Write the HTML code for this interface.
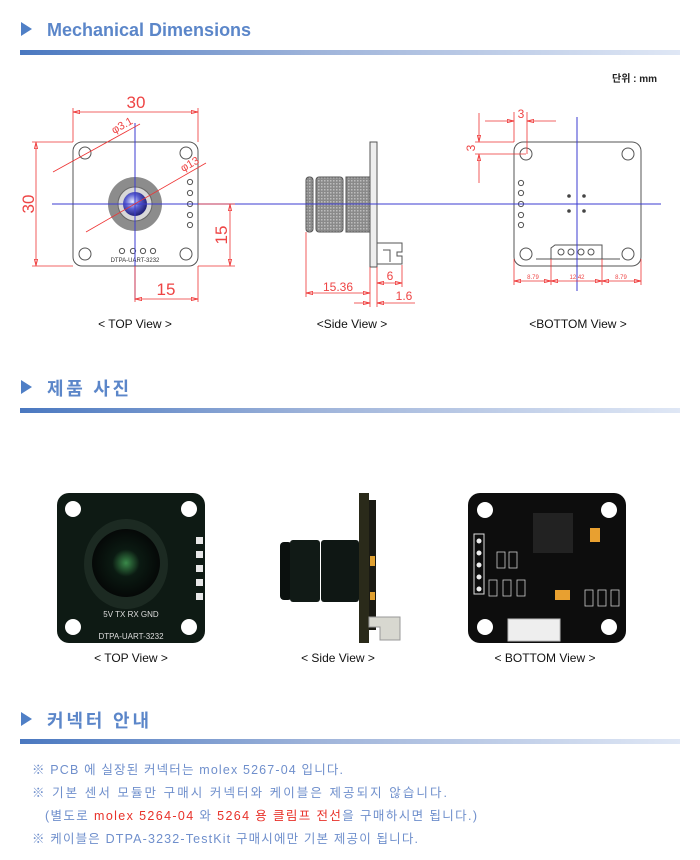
<!DOCTYPE html>
<html><head><meta charset="utf-8"><style>
html,body{margin:0;padding:0;background:#fff;width:700px;height:860px;overflow:hidden}
svg{display:block}
text{font-family:"Liberation Sans","Noto Sans CJK KR",sans-serif}
</style></head><body>
<svg width="700" height="860" viewBox="0 0 700 860" xmlns="http://www.w3.org/2000/svg">
<defs>
<linearGradient id="bar" x1="0" x2="1" y1="0" y2="0">
<stop offset="0" stop-color="#4a78c0"/><stop offset="0.45" stop-color="#9fb4da"/><stop offset="1" stop-color="#dfe7f5"/>
</linearGradient>
<pattern id="knurl" width="3" height="3" patternUnits="userSpaceOnUse">
<rect width="3" height="3" fill="#8a8a8a"/><rect width="1.5" height="1.5" fill="#bdbdbd"/>
</pattern>
<radialGradient id="lens" cx="0.4" cy="0.4" r="0.6"><stop offset="0" stop-color="#e8ecff"/><stop offset="0.5" stop-color="#5a5fd0"/><stop offset="1" stop-color="#23237a"/></radialGradient>
<radialGradient id="plens" cx="0.5" cy="0.5" r="0.5"><stop offset="0" stop-color="#3a8a4a"/><stop offset="0.4" stop-color="#0b1a12"/><stop offset="1" stop-color="#050807"/></radialGradient>
<marker id="ar" viewBox="0 0 10 6" refX="10" refY="3" markerWidth="10" markerHeight="5" orient="auto-start-reverse"><path d="M0,0.5 L10,3 L0,5.5 Z" fill="none" stroke="#e33" stroke-width="1"/></marker>
</defs>

<!-- Header 1 -->
<path d="M21,22 L32,29 L21,36 Z" fill="#4f7fc6"/>
<text x="47" y="36" font-size="18" font-weight="bold" fill="#5b86c9">Mechanical Dimensions</text>
<rect x="20" y="50" width="660" height="5" fill="url(#bar)"/>
<text x="612" y="82" font-size="10" font-weight="bold" fill="#222">단위 : mm</text>

<!-- TOP view drawing -->
<g stroke="#555" fill="none" stroke-width="1">
<rect x="73" y="142" width="125" height="124" rx="9"/>
<circle cx="85" cy="153" r="6"/><circle cx="186" cy="153" r="6"/><circle cx="85" cy="254" r="6"/><circle cx="186" cy="254" r="6"/>
<circle cx="190" cy="182" r="2.6"/><circle cx="190" cy="193" r="2.6"/><circle cx="190" cy="204" r="2.6"/><circle cx="190" cy="215" r="2.6"/><circle cx="190" cy="225" r="2.6"/>
<circle cx="122" cy="251" r="2.6"/><circle cx="133" cy="251" r="2.6"/><circle cx="143" cy="251" r="2.6"/><circle cx="153" cy="251" r="2.6"/>
</g>
<circle cx="135" cy="204" r="27" fill="#8c8c8c"/>
<circle cx="135" cy="204" r="17" fill="#d8d8d8" stroke="#666"/>
<circle cx="135" cy="204" r="12" fill="url(#lens)"/>
<text x="135" y="262" font-size="6" fill="#333" text-anchor="middle">DTPA-UART-3232</text>

<!-- Side view drawing -->
<g stroke="#555" stroke-width="1">
<rect x="306" y="177" width="7" height="55" rx="3" fill="url(#knurl)"/>
<rect x="316" y="177" width="27" height="55" rx="3" fill="url(#knurl)"/>
<rect x="346" y="177" width="24" height="55" fill="url(#knurl)"/>
<rect x="370" y="142" width="7" height="125" fill="#eee"/>
<path d="M377,243 H402 V252 H397 V256 H402 V264 H377" fill="none"/>
<path d="M383,250 H390 V262" fill="none"/>
</g>

<!-- Bottom view drawing -->
<g stroke="#555" fill="none" stroke-width="1">
<rect x="514" y="142" width="127" height="124" rx="9"/>
<circle cx="526" cy="154" r="6"/><circle cx="628" cy="154" r="6"/><circle cx="526" cy="254" r="6"/><circle cx="628" cy="254" r="6"/>
<circle cx="521" cy="183" r="2.6"/><circle cx="521" cy="193" r="2.6"/><circle cx="521" cy="204" r="2.6"/><circle cx="521" cy="215" r="2.6"/><circle cx="521" cy="225" r="2.6"/>
<path d="M551,259 V248 L555,245 H602 V259"/>
<circle cx="561" cy="252" r="3"/><circle cx="571" cy="252" r="3"/><circle cx="581" cy="252" r="3"/><circle cx="591" cy="252" r="3"/>
<line x1="536" y1="259" x2="620" y2="259"/>
</g>
<g fill="#444"><circle cx="569" cy="196" r="1.8"/><circle cx="584" cy="196" r="1.8"/><circle cx="569" cy="211" r="1.8"/><circle cx="584" cy="211" r="1.8"/></g>

<!-- blue center lines -->
<g stroke="#3b3bd0" stroke-width="1">
<line x1="52" y1="204" x2="661" y2="204"/>
<line x1="135" y1="123" x2="135" y2="300"/>
<line x1="577" y1="117" x2="577" y2="291"/>
</g>

<!-- red dims -->
<g stroke="#e33" stroke-width="0.8" fill="none">
<line x1="73" y1="142" x2="73" y2="108"/><line x1="198" y1="142" x2="198" y2="108"/>
<line x1="73" y1="112" x2="198" y2="112" marker-start="url(#ar)" marker-end="url(#ar)"/>
<line x1="73" y1="142" x2="32" y2="142"/><line x1="73" y1="266" x2="32" y2="266"/>
<line x1="36" y1="142" x2="36" y2="266" marker-start="url(#ar)" marker-end="url(#ar)"/>
<line x1="198" y1="204" x2="235" y2="204"/><line x1="198" y1="266" x2="235" y2="266"/>
<line x1="230" y1="204" x2="230" y2="266" marker-start="url(#ar)" marker-end="url(#ar)"/>
<line x1="135" y1="266" x2="135" y2="302"/><line x1="198" y1="266" x2="198" y2="302"/>
<line x1="135" y1="299" x2="198" y2="299" marker-start="url(#ar)" marker-end="url(#ar)"/>
<line x1="53" y1="172" x2="140" y2="124"/>
<line x1="86" y1="232" x2="206" y2="163"/>
<line x1="306" y1="232" x2="306" y2="297"/><line x1="370" y1="267" x2="370" y2="307"/><line x1="377" y1="267" x2="377" y2="307"/><line x1="402" y1="265" x2="402" y2="287"/>
<line x1="306" y1="293" x2="370" y2="293" marker-start="url(#ar)" marker-end="url(#ar)"/>
<line x1="377" y1="283" x2="402" y2="283" marker-start="url(#ar)" marker-end="url(#ar)"/>
<line x1="354" y1="303" x2="370" y2="303" marker-end="url(#ar)"/>
<line x1="415" y1="303" x2="377" y2="303" marker-end="url(#ar)"/>
<line x1="514" y1="142" x2="514" y2="112"/><line x1="527" y1="154" x2="527" y2="112"/>
<line x1="485" y1="121" x2="514" y2="121" marker-end="url(#ar)"/><line x1="556" y1="121" x2="527" y2="121" marker-end="url(#ar)"/>
<line x1="514" y1="142" x2="475" y2="142"/><line x1="526" y1="154" x2="475" y2="154"/>
<line x1="479" y1="113" x2="479" y2="142" marker-end="url(#ar)"/><line x1="479" y1="183" x2="479" y2="154" marker-end="url(#ar)"/>
<line x1="514" y1="259" x2="514" y2="285"/><line x1="551" y1="259" x2="551" y2="285"/><line x1="602" y1="259" x2="602" y2="285"/><line x1="641" y1="259" x2="641" y2="285"/>
<line x1="514" y1="281" x2="551" y2="281" marker-start="url(#ar)" marker-end="url(#ar)"/>
<line x1="551" y1="281" x2="602" y2="281" marker-start="url(#ar)" marker-end="url(#ar)"/>
<line x1="602" y1="281" x2="641" y2="281" marker-start="url(#ar)" marker-end="url(#ar)"/>
</g>
<g fill="#e44" font-size="17">
<text x="136" y="108" text-anchor="middle">30</text>
<text x="34" y="204" text-anchor="middle" transform="rotate(-90 34 204)">30</text>
<text x="227" y="235" text-anchor="middle" transform="rotate(-90 227 235)">15</text>
<text x="166" y="295" text-anchor="middle">15</text>
<text x="114" y="134" font-size="11" transform="rotate(-29 114 134)">φ3.1</text>
<text x="183" y="172" font-size="11" transform="rotate(-29 183 172)">φ13</text>
<text x="338" y="291" font-size="12" text-anchor="middle">15.36</text>
<text x="390" y="280" font-size="12" text-anchor="middle">6</text>
<text x="404" y="300" font-size="12" text-anchor="middle">1.6</text>
<text x="521" y="118" font-size="12" text-anchor="middle">3</text>
<text x="475" y="148" font-size="12" text-anchor="middle" transform="rotate(-90 475 148)">3</text>
<text x="533" y="279" font-size="6" text-anchor="middle">8.79</text>
<text x="577" y="279" font-size="6" text-anchor="middle">12.42</text>
<text x="621" y="279" font-size="6" text-anchor="middle">8.79</text>
</g>
<g font-size="12" fill="#111" text-anchor="middle">
<text x="135" y="328">&lt; TOP View &gt;</text>
<text x="352" y="328">&lt;Side View &gt;</text>
<text x="578" y="328">&lt;BOTTOM View &gt;</text>
</g>

<!-- Header 2 -->
<path d="M21,380 L32,387 L21,394 Z" fill="#4f7fc6"/>
<text x="47" y="395" font-size="18" font-weight="bold" fill="#5b86c9" textLength="82" lengthAdjust="spacing">제품 사진</text>
<rect x="20" y="408" width="660" height="5" fill="url(#bar)"/>

<!-- Photo top -->
<rect x="57" y="493" width="148" height="150" rx="12" fill="#0e1a14"/>
<circle cx="73" cy="509" r="8" fill="#fff"/><circle cx="189" cy="509" r="8" fill="#fff"/><circle cx="73" cy="627" r="8" fill="#fff"/><circle cx="189" cy="627" r="8" fill="#fff"/>
<ellipse cx="126" cy="564" rx="42" ry="45" fill="#1c2a22"/>
<circle cx="126" cy="563" r="34" fill="url(#plens)"/>
<g fill="#e8e8e8"><rect x="196" y="537" width="7" height="7"/><rect x="196" y="551" width="7" height="7"/><rect x="196" y="565" width="7" height="7"/><rect x="196" y="579" width="7" height="7"/><rect x="196" y="593" width="7" height="7"/></g>
<text x="131" y="617" font-size="8" fill="#ddd" text-anchor="middle">5V TX RX GND</text>
<text x="131" y="639" font-size="8" fill="#ddd" text-anchor="middle">DTPA-UART-3232</text>

<!-- Photo side -->
<rect x="280" y="542" width="12" height="58" rx="4" fill="#0b100e"/>
<rect x="290" y="540" width="30" height="62" rx="3" fill="#111a16"/>
<rect x="321" y="540" width="38" height="62" rx="3" fill="#0f1714"/>
<rect x="359" y="493" width="10" height="150" fill="#2a2a1a"/>
<rect x="369" y="500" width="7" height="130" fill="#1a1a14"/>
<rect x="370" y="556" width="5" height="10" fill="#e0a030"/><rect x="370" y="592" width="5" height="8" fill="#e0a030"/>
<path d="M369,617 H400 V640 H380 V627 H369 Z" fill="#d8d8d0" stroke="#999"/>

<!-- Photo bottom -->
<rect x="468" y="493" width="158" height="150" rx="12" fill="#0d0d0d"/>
<circle cx="485" cy="510" r="8" fill="#fff"/><circle cx="609" cy="510" r="8" fill="#fff"/><circle cx="485" cy="627" r="8" fill="#fff"/><circle cx="609" cy="627" r="8" fill="#fff"/>
<rect x="533" y="513" width="40" height="40" fill="#222"/>
<rect x="474" y="534" width="10" height="60" fill="none" stroke="#ddd"/>
<g fill="#eee"><circle cx="479" cy="541" r="2.5"/><circle cx="479" cy="553" r="2.5"/><circle cx="479" cy="565" r="2.5"/><circle cx="479" cy="577" r="2.5"/><circle cx="479" cy="589" r="2.5"/></g>
<rect x="590" y="528" width="10" height="14" fill="#e8a030"/>
<rect x="555" y="590" width="15" height="10" fill="#e8a030"/>
<rect x="508" y="619" width="52" height="22" fill="#eee" stroke="#bbb"/>
<g stroke="#ccc" fill="none" stroke-width="0.8"><rect x="497" y="552" width="8" height="16"/><rect x="509" y="552" width="8" height="16"/><rect x="489" y="580" width="8" height="16"/><rect x="503" y="580" width="8" height="16"/><rect x="517" y="580" width="8" height="16"/><rect x="585" y="590" width="8" height="16"/><rect x="598" y="590" width="8" height="16"/><rect x="611" y="590" width="8" height="16"/></g>

<g font-size="12" fill="#111" text-anchor="middle">
<text x="131" y="662">&lt; TOP View &gt;</text>
<text x="338" y="662">&lt; Side View &gt;</text>
<text x="545" y="662">&lt; BOTTOM View &gt;</text>
</g>

<!-- Header 3 -->
<path d="M21,712 L32,719 L21,726 Z" fill="#4f7fc6"/>
<text x="47" y="727" font-size="18" font-weight="bold" fill="#5b86c9" textLength="102" lengthAdjust="spacing">커넥터 안내</text>
<rect x="20" y="739" width="660" height="5" fill="url(#bar)"/>

<g font-size="12.5" fill="#6f8fcc">
<text x="32" y="774" textLength="311" lengthAdjust="spacing">※ PCB 에 실장된 커넥터는 molex 5267-04 입니다.</text>
<text x="32" y="797" textLength="415" lengthAdjust="spacing">※ 기본 센서 모듈만 구매시 커넥터와 케이블은 제공되지 않습니다.</text>
<text x="45" y="820" textLength="432" lengthAdjust="spacing">(별도로 <tspan fill="#e8322a">molex 5264-04</tspan> 와 <tspan fill="#e8322a">5264 용 클림프 전선</tspan>을 구매하시면 됩니다.)</text>
<text x="32" y="843" textLength="386" lengthAdjust="spacing">※ 케이블은 DTPA-3232-TestKit 구매시에만 기본 제공이 됩니다.</text>
</g>
</svg>
</body></html>
